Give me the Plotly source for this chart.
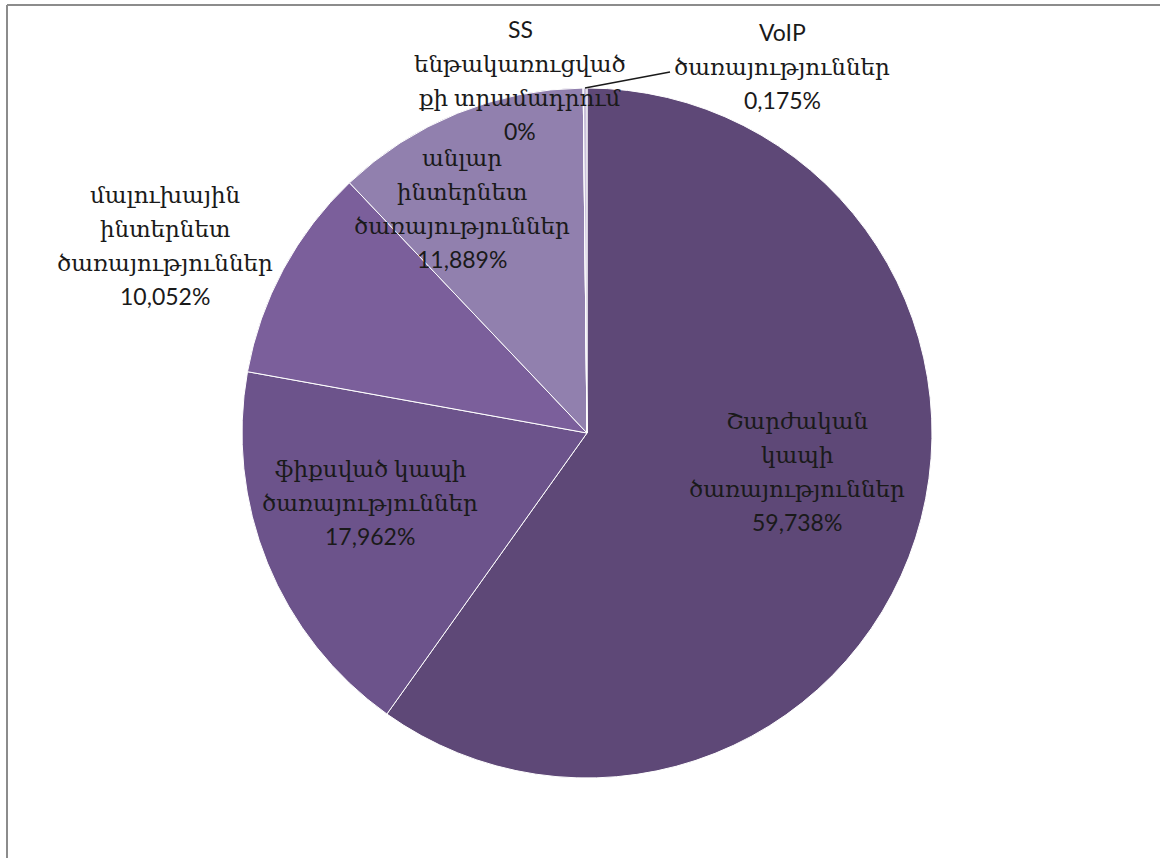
import plotly.graph_objects as go

categories = [
    "Շարժական կապի ծառայություններ",
    "ֆիքսված կապի ծառայություններ",
    "մալուխային ինտերնետ ծառայություններ",
    "անլար ինտերնետ ծառայություններ",
    "SS ենթակառուցված քի տրամադրում",
    "VoIP ծառայություններ",
]
values = [59.738, 17.962, 10.052, 11.889, 0.0, 0.175]
value_labels = ["59,738%", "17,962%", "10,052%", "11,889%", "0%", "0,175%"]
label_lines = [
    ["Շարժական", "կապի", "ծառայություններ"],
    ["ֆիքսված կապի", "ծառայություններ"],
    ["մալուխային", "ինտերնետ", "ծառայություններ"],
    ["անլար", "ինտերնետ", "ծառայություններ"],
    ["SS", "ենթակառուցված", "քի տրամադրում"],
    ["VoIP", "ծառայություններ"],
]
colors = ["#5E4877", "#6C538B", "#7B5F9B", "#9180AE", "#B9AECF", "#C9C0DA"]

W, H = 1160, 858
FONT = "Lato, 'DejaVu Serif', serif"
LINE = 34  # px between label lines

fig = go.Figure(go.Pie(
    labels=categories,
    values=values,
    sort=False,
    direction="clockwise",
    rotation=0,
    marker=dict(colors=colors, line=dict(color="white", width=1)),
    textinfo="none",
    hoverinfo="label+percent",
    showlegend=False,
    domain=dict(x=[242 / W, 932 / W], y=[(H - 778) / H, (H - 88) / H]),
))

# label placement (pixel centres)
label_pos = [(797, 471), (370, 502), (165, 245), (462, 208), (520, 80), (782, 66)]
annotations = []
for lines, val, (px, py) in zip(label_lines, value_labels, label_pos):
    all_lines = lines + [val]
    n = len(all_lines)
    for i, ln in enumerate(all_lines):
        ly = py + (i - (n - 1) / 2) * LINE
        annotations.append(dict(
            x=px / W, y=1 - ly / H, xref="paper", yref="paper",
            text=ln, showarrow=False,
            font=dict(family=FONT, size=23, color="#1a1a1a"),
            xanchor="center", yanchor="middle", align="center",
        ))

shapes = [
    # leader line for VoIP
    dict(type="line", xref="paper", yref="paper",
         x0=585 / W, y0=1 - 88 / H, x1=670 / W, y1=1 - 72 / H,
         line=dict(color="#1a1a1a", width=1.3)),
    # chart frame (left and top edges visible)
    dict(type="line", xref="paper", yref="paper",
         x0=7 / W, y0=0, x1=7 / W, y1=1 - 5 / H,
         line=dict(color="#8c8c8c", width=2)),
    dict(type="line", xref="paper", yref="paper",
         x0=7 / W, y0=1 - 5 / H, x1=1, y1=1 - 5 / H,
         line=dict(color="#8c8c8c", width=2)),
]

fig.update_layout(
    width=W, height=H,
    margin=dict(l=0, r=0, t=0, b=0),
    paper_bgcolor="white",
    plot_bgcolor="white",
    annotations=annotations,
    shapes=shapes,
    font=dict(family=FONT),
)

fig.write_html("out.html", config={"displayModeBar": False},
               post_script="document.body.style.margin='0';")
